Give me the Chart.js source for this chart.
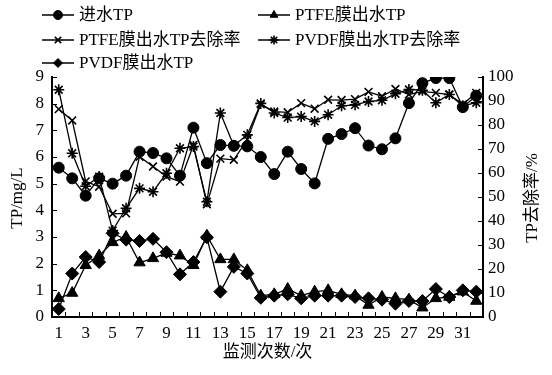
<!DOCTYPE html>
<html>
<head>
<meta charset="utf-8">
<script src="https://cdn.jsdelivr.net/npm/chart.js@4.4.1/dist/chart.umd.min.js"></script>
<style>
  html, body { margin: 0; padding: 0; background: #fff; }
</style>
</head>
<body>
<canvas id="chart" width="552" height="375"></canvas>
<script>
/* ===== Data ===== */
const categories = ['1','2','3','4','5','6','7','8','9','10','11','12','13','14','15','16',
  '17','18','19','20','21','22','23','24','25','26','27','28','29','30','31','32'];

// TP concentration, mg/L (left axis)
const inflowTP = [5.6, 5.2, 4.55, 5.2, 5.0, 5.3, 6.2, 6.15, 5.95, 5.3, 7.1, 5.77, 6.45, 6.42, 6.4, 6.0,
  5.36, 6.2, 5.55, 5.01, 6.68, 6.86, 7.08, 6.43, 6.29, 6.7, 8.02, 8.77, 8.96, 8.96, 7.87, 8.3];
const ptfeOutTP = [0.7, 0.9, 1.94, 2.3, 2.8, 3.0, 2.04, 2.2, 2.4, 2.3, 1.94, 3.05, 2.16, 2.16, 1.75, 0.8,
  0.85, 1.05, 0.8, 0.95, 1.0, 0.85, 0.8, 0.45, 0.75, 0.7, 0.65, 0.35, 0.7, 0.75, 0.95, 0.6];
const pvdfOutTP = [0.3, 1.63, 2.25, 2.06, 3.14, 2.9, 2.85, 2.93, 2.43, 1.6, 2.06, 2.99, 0.95, 1.88, 1.63, 0.72,
  0.8, 0.85, 0.7, 0.8, 0.8, 0.8, 0.75, 0.7, 0.65, 0.5, 0.6, 0.6, 1.05, 0.75, 1.0, 0.95];

// TP removal rate, % (right axis)
const ptfeRemoval = [86.6, 81.9, 56.5, 54.3, 43, 43.2, 66.8, 62.7, 58.5, 56.4, 71.7, 47, 66, 65.5, 74, 88.6,
  85.6, 85.3, 89.1, 86.8, 90.5, 90.4, 90.8, 93.8, 92, 95, 92.7, 94, 93.4, 92.7, 88.6, 93.4];
const pvdfRemoval = [94.7, 68.2, 54.5, 58.5, 36, 45.3, 53.6, 52.2, 59.9, 70.3, 71, 48, 85, 71.4, 75.9, 89,
  85, 83.1, 83.5, 81.5, 84.3, 88, 88.4, 89.8, 90.3, 93, 94.8, 94.5, 89.3, 92.7, 88, 89.3];

const FONT = '"Liberation Serif", "Noto Sans CJK SC", serif';

/* ===== Series styles ===== */
function series(label, data, axis, pointStyle, radius) {
  return {
    label, data, yAxisID: axis,
    borderColor: '#000', backgroundColor: '#000',
    borderWidth: 1.3,
    pointStyle, pointRadius: radius,
    pointBorderWidth: (pointStyle === 'crossRot' || pointStyle === 'star') ? 1.6 : 1,
    tension: 0
  };
}

const datasets = [
  series('进水TP', inflowTP, 'y', 'circle', 5.5),
  series('PTFE膜出水TP', ptfeOutTP, 'y', 'triangle', 6.5),
  series('PTFE膜出水TP去除率', ptfeRemoval, 'y1', 'crossRot', 5.5),
  series('PVDF膜出水TP去除率', pvdfRemoval, 'y1', 'star', 5.5),
  series('PVDF膜出水TP', pvdfOutTP, 'y', 'rectRot', 6.5)
];

/* ===== Inward tick marks ===== */
const inwardTicks = {
  id: 'inwardTicks',
  afterDraw(chart) {
    const { ctx, chartArea: a, scales: { x, y, y1 } } = chart;
    ctx.save();
    ctx.strokeStyle = '#000';
    ctx.lineWidth = 1;
    ctx.beginPath();
    const bw = x.getPixelForValue(1) - x.getPixelForValue(0);
    for (let i = 0; i <= categories.length; i++) {
      const px = Math.round(x.getPixelForValue(0) - bw / 2 + i * bw) + 0.5;
      ctx.moveTo(px, a.bottom); ctx.lineTo(px, a.bottom - 5);
    }
    y.ticks.forEach(t => {
      const py = Math.round(y.getPixelForValue(t.value)) + 0.5;
      ctx.moveTo(a.left, py); ctx.lineTo(a.left + 5, py);
    });
    y1.ticks.forEach(t => {
      const py = Math.round(y1.getPixelForValue(t.value)) + 0.5;
      ctx.moveTo(a.right, py); ctx.lineTo(a.right - 5, py);
    });
    ctx.stroke();
    ctx.restore();
  }
};

/* ===== Two-column legend + axis titles ===== */
const legendAndTitles = {
  id: 'legendAndTitles',
  afterDraw(chart) {
    const { ctx } = chart;
    const cols = [42, 258];
    const rows = [15, 40, 63];
    ctx.save();
    ctx.fillStyle = '#000';
    ctx.strokeStyle = '#000';
    ctx.font = '17px ' + FONT;
    ctx.textBaseline = 'middle';
    chart.data.datasets.forEach((ds, i) => {
      const x0 = cols[i % 2], yy = rows[Math.floor(i / 2)];
      ctx.lineWidth = 1.5;
      ctx.beginPath(); ctx.moveTo(x0, yy); ctx.lineTo(x0 + 32, yy); ctx.stroke();
      ctx.lineWidth = ds.pointBorderWidth;
      Chart.helpers.drawPoint(ctx, { pointStyle: ds.pointStyle, radius: 4.5, borderWidth: ds.pointBorderWidth, rotation: 0 }, x0 + 16, yy);
      ctx.textAlign = 'left';
      ctx.fillText(ds.label, x0 + 37, yy + 1);
    });

    // axis titles
    const a = chart.chartArea;
    ctx.textAlign = 'center';
    ctx.fillText('监测次数/次', (a.left + a.right) / 2, 353);
    ctx.save();
    ctx.translate(18, 198); ctx.rotate(-Math.PI / 2);
    ctx.fillText('TP/mg/L', 0, 0);
    ctx.restore();
    ctx.save();
    ctx.translate(533, 198); ctx.rotate(-Math.PI / 2);
    ctx.fillText('TP去除率/%', 0, 0);
    ctx.restore();
    ctx.restore();
  }
};

const tickFont = { family: FONT, size: 17 };

new Chart(document.getElementById('chart'), {
  type: 'line',
  data: { labels: categories, datasets },
  plugins: [inwardTicks, legendAndTitles],
  options: {
    responsive: false,
    animation: false,
    layout: { padding: { top: 77, left: 0, right: 0, bottom: 0 } },
    plugins: { legend: { display: false }, tooltip: { enabled: false } },
    scales: {
      x: {
        type: 'category',
        offset: true,
        grid: { display: false, drawTicks: false },
        border: { display: true, color: '#000', width: 2 },
        ticks: {
          color: '#000', font: tickFont, autoSkip: false, maxRotation: 0, padding: 6,
          callback: (v, i) => (i % 2 === 0 ? categories[i] : '')
        },
        afterFit: s => { s.height = 58; }
      },
      y: {
        position: 'left',
        min: 0, max: 9,
        grid: { display: false, drawTicks: false },
        border: { display: true, color: '#000', width: 2 },
        ticks: { stepSize: 1, color: '#000', font: tickFont, padding: 8 },
        afterFit: s => { s.width = 52; }
      },
      y1: {
        position: 'right',
        min: 0, max: 100,
        grid: { display: false, drawTicks: false },
        border: { display: true, color: '#000', width: 2 },
        ticks: { stepSize: 10, color: '#000', font: tickFont, padding: 5 },
        afterFit: s => { s.width = 69; }
      }
    }
  }
});
</script>
</body>
</html>
